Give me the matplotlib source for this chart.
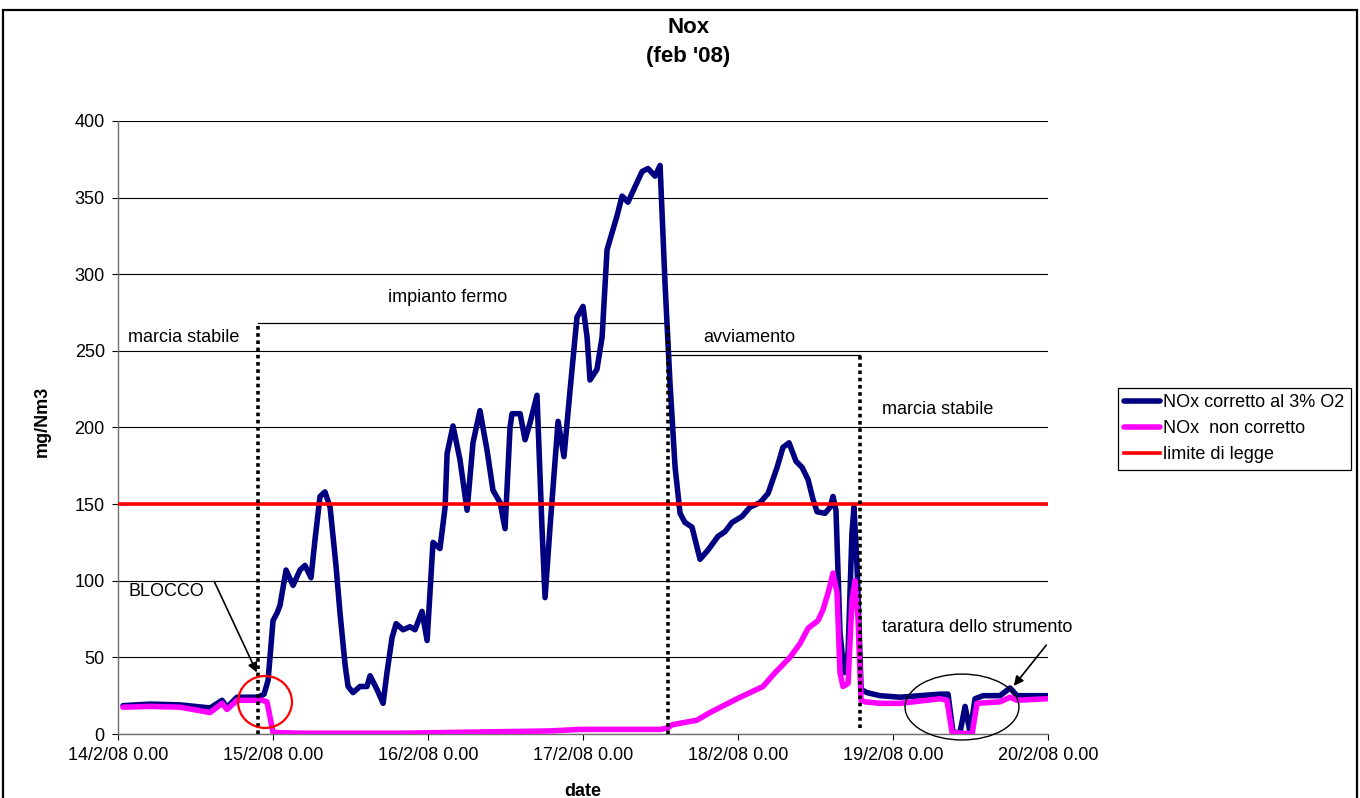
import matplotlib
matplotlib.use("Agg")
import matplotlib.pyplot as plt
from matplotlib.patches import Ellipse, Rectangle

plt.rcParams['font.family'] = ['Liberation Sans', 'DejaVu Sans']

# time axis in days from 14/2/08 0.00
day_labels = ["14/2/08 0.00", "15/2/08 0.00", "16/2/08 0.00", "17/2/08 0.00",
              "18/2/08 0.00", "19/2/08 0.00", "20/2/08 0.00"]

# NOx corrected to 3% O2 (mg/Nm3)
t_corr = [0.032, 0.206, 0.400, 0.594, 0.671, 0.703, 0.768, 0.903, 0.942, 0.968,
          1.000, 1.026, 1.045, 1.084, 1.129, 1.174, 1.206, 1.245, 1.271, 1.303,
          1.335, 1.368, 1.406, 1.432, 1.465, 1.484, 1.516, 1.561, 1.606, 1.626,
          1.671, 1.710, 1.735, 1.768, 1.794, 1.839, 1.884, 1.916, 1.961, 1.994,
          2.032, 2.077, 2.110, 2.123, 2.161, 2.206, 2.252, 2.290, 2.335, 2.381,
          2.419, 2.465, 2.497, 2.529, 2.542, 2.594, 2.626, 2.658, 2.703, 2.735,
          2.755, 2.787, 2.839, 2.877, 2.916, 2.961, 3.000, 3.026, 3.045, 3.090,
          3.123, 3.155, 3.187, 3.219, 3.252, 3.290, 3.335, 3.381, 3.419, 3.465,
          3.497, 3.529, 3.561, 3.594, 3.626, 3.658, 3.703, 3.723, 3.755, 3.806,
          3.871, 3.916, 3.961, 4.026, 4.077, 4.142, 4.194, 4.252, 4.290, 4.329,
          4.374, 4.413, 4.452, 4.484, 4.510, 4.561, 4.594, 4.613, 4.632, 4.658,
          4.684, 4.710, 4.735, 4.748, 4.768, 4.794, 4.832, 4.916, 5.045, 5.174,
          5.303, 5.355, 5.387, 5.432, 5.465, 5.497, 5.529, 5.581, 5.690, 5.755,
          5.800, 5.994]
nox_corr = [18.5, 19.5, 19, 17, 22, 17.5, 24, 24, 26, 35,
            74, 79, 84, 107, 97, 107, 110, 102, 127, 155,
            158, 148, 110, 79, 45, 31, 27, 31, 31, 38,
            29, 20, 40, 63, 72, 68, 70, 68, 80, 61,
            125, 121, 148, 183, 201, 179, 146, 190, 211, 185,
            159, 151, 134, 200, 209, 209, 192, 203, 221, 135,
            89, 135, 204, 181, 224, 272, 279, 259, 231, 238,
            259, 316, 327, 338, 351, 347, 357, 367, 369, 364,
            371, 294, 229, 174, 144, 138, 135, 127, 114, 120,
            129, 132, 138, 142, 148, 151, 157, 174, 187, 190,
            178, 174, 166, 153, 145, 144, 148, 155, 146, 66,
            40, 53, 131, 148, 109, 29, 27, 25, 24, 25,
            26, 26, 1, 1, 18, 1, 23, 25, 25, 30,
            25, 25]

# NOx not corrected (mg/Nm3)
t_raw = [0.032, 0.206, 0.400, 0.594, 0.671, 0.703, 0.768, 0.929, 0.961, 1.000,
         1.174, 1.497, 1.819, 2.142, 2.465, 2.787, 2.981, 3.239, 3.497, 3.548,
         3.574, 3.626, 3.735, 3.819, 3.916, 3.994, 4.077, 4.161, 4.239, 4.335,
         4.400, 4.452, 4.516, 4.548, 4.581, 4.613, 4.639, 4.658, 4.677, 4.710,
         4.735, 4.755, 4.774, 4.794, 4.819, 4.916, 5.045, 5.303, 5.348, 5.381,
         5.510, 5.542, 5.690, 5.755, 5.800, 5.994]
nox_raw = [17.5, 18, 17.5, 14, 20, 16, 22, 22, 21, 1,
           0.5, 0.5, 0.5, 1, 1.5, 2, 3, 3, 3, 4,
           6, 7, 9, 14, 19, 23, 27, 31, 40, 50,
           59, 69, 74, 81, 92, 105, 92, 40, 31, 33,
           87, 100, 76, 22, 21, 20, 20, 23, 22, 1,
           0, 20, 21, 24, 22, 23]

limit_value = 150

fig = plt.figure(figsize=(13.6, 7.98), dpi=100)
ax = fig.add_axes([0.0868, 0.0802, 0.6838, 0.7682])

ax.plot(t_corr, nox_corr, color='#000080', lw=4, solid_joinstyle='round',
        solid_capstyle='round', label='NOx corretto al 3% O2', zorder=3)
ax.plot(t_raw, nox_raw, color='#FF00FF', lw=4, solid_joinstyle='round',
        solid_capstyle='round', label='NOx  non corretto', zorder=4)
ax.plot([0, 6], [limit_value, limit_value], color='#FF0000', lw=2.6,
        label='limite di legge', zorder=5)

ax.set_xlim(0, 6)
ax.set_ylim(0, 400)
ax.set_xticks(range(7))
ax.set_xticklabels(day_labels)
ax.set_yticks(range(0, 401, 50))
ax.tick_params(axis='both', labelsize=13, length=4.5, width=0.8, direction='out',
               pad=5, colors='black')
ax.yaxis.grid(True, color='black', lw=0.8)
ax.set_axisbelow(True)
for side in ['top', 'right']:
    ax.spines[side].set_visible(False)
for side in ['left', 'bottom']:
    ax.spines[side].set_color('#707070')
    ax.spines[side].set_linewidth(1)

# phase markers
dot = (0, (1, 1))
ax.plot([0.903, 0.903], [0, 268], color='black', lw=2.6, ls=dot, zorder=6)
ax.plot([0.903, 3.548], [268, 268], color='black', lw=0.9, zorder=2)
ax.plot([3.548, 3.548], [0, 268], color='black', lw=2.6, ls=dot, zorder=6)
ax.plot([3.548, 4.787], [247, 247], color='black', lw=0.9, zorder=2)
ax.plot([4.787, 4.787], [4, 247], color='black', lw=2.6, ls=dot, zorder=6)

ax.text(0.065, 259, 'marcia stabile', fontsize=13, va='center')
ax.text(1.742, 284.6, 'impianto fermo', fontsize=13, va='center')
ax.text(3.774, 259, 'avviamento', fontsize=13, va='center')
ax.text(4.929, 212, 'marcia stabile', fontsize=13, va='center')
ax.text(0.065, 92.7, 'BLOCCO', fontsize=13, va='center')
ax.text(4.929, 69.8, 'taratura dello strumento', fontsize=13, va='center')

ax.annotate('', xy=(0.903, 38.5), xytext=(0.613, 101.2),
            arrowprops=dict(arrowstyle='-|>', color='black', lw=1.2,
                            mutation_scale=14))
ax.annotate('', xy=(5.768, 30), xytext=(6.0, 59.4),
            arrowprops=dict(arrowstyle='-|>', color='black', lw=1.2,
                            mutation_scale=14), annotation_clip=False)

ax.add_patch(Ellipse((0.948, 20.9), 0.348, 33.9, fill=False, edgecolor='#FF0000',
                     lw=1.6, zorder=7, clip_on=False))
ax.add_patch(Ellipse((5.445, 17.6), 0.735, 43, fill=False, edgecolor='black',
                     lw=1.0, zorder=7, clip_on=False))

fig.text(0.506, 0.965, 'Nox', fontsize=16, fontweight='bold', ha='center', va='center')
fig.text(0.506, 0.9286, "(feb '08)", fontsize=16, fontweight='bold', ha='center', va='center')
fig.text(0.031, 0.4724, 'mg/Nm3', fontsize=13, fontweight='bold', rotation=90,
         ha='center', va='center')
fig.text(0.4287, 0.008, 'date', fontsize=13, fontweight='bold', ha='center', va='center')

leg = fig.legend(loc='upper left', bbox_to_anchor=(0.822, 0.5138), fontsize=13,
                 frameon=True, fancybox=False, framealpha=1, edgecolor='black',
                 handlelength=2.0, handletextpad=0.15, labelspacing=0.5,
                 borderpad=0.35, borderaxespad=0)
leg.get_frame().set_linewidth(0.9)

# outer chart border
fig.patches.append(Rectangle((0.0022, -0.02), 0.9956, 1.0075, transform=fig.transFigure,
                             fill=False, edgecolor='black', lw=1.6))

fig.savefig('out.png', dpi=100)
